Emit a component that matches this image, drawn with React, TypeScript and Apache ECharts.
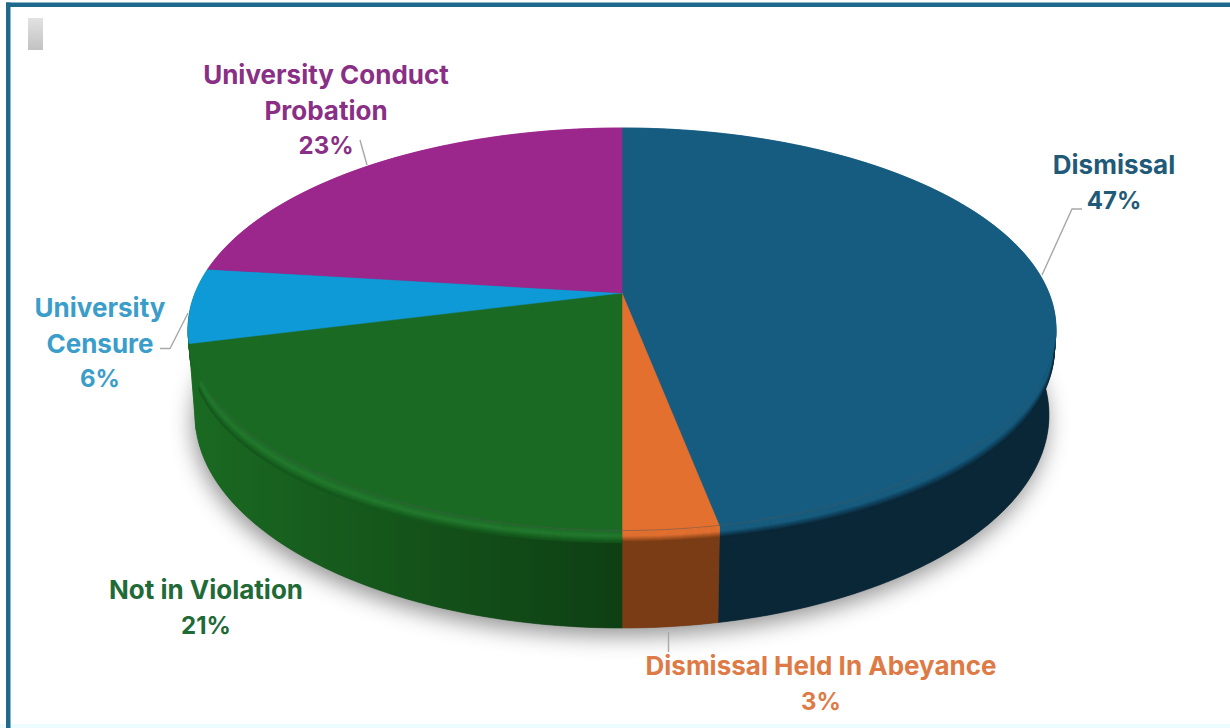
import React, { useEffect, useRef } from "react";
import * as echarts from "echarts";

const categories = ["Dismissal", "Dismissal Held In Abeyance", "Not in Violation", "University Censure", "University Conduct Probation"];
const labelLines = [["Dismissal"], ["Dismissal Held In Abeyance"], ["Not in Violation"], ["University", "Censure"], ["University Conduct", "Probation"]];
const shares = [47, 3, 21, 6, 23];
const topColors = ["#155c80", "#e4702f", "#1a6a24", "#0e9ad6", "#9c278c"];
const textColors = ["#1f5a78", "#de7a45", "#1f6a36", "#3a9dca", "#8a2f86"];

const W = 1230, H = 728;
const CX = 622, APEX_Y = 293, P = 0.179, A = 427, B = 194.6;
const TOP = { cy: 329.5, rx: 434, ry: 201.5 };
const BOT = { cy: 415, rx: 427, ry: 213 };
const LABEL_POS = [[1114, 147], [821, 648], [206, 572], [100, 290], [326, 57]];
const LINE_H = 35.5;
const TOTAL = shares.reduce((a, b) => a + b, 0);
// wall colours per slice: [top of the wall colour it fades from, wall colour]; the hidden censure wall continues the green one
const wallFrom = ["#155c80", "#e4702f", "#1a6a24", "#1a6a24", "#9c278c"];
const wallBase = ["#0a2738", "#7a3c15", "#14571c", "#1a631f", "#6e1a63"];

const startOf = (i: number) => shares.slice(0, i).reduce((a, b) => a + b, 0);

function rim(f: number): [number, number] {
  const t = (f / TOTAL) * Math.PI * 2;
  const u = Math.sin(t), v = Math.cos(t);
  const w = 1 + P * v;
  return [CX + (A * u) / w, APEX_Y - (B * v) / w];
}
function rimSamples(s: number, e: number) {
  const n = Math.max(4, Math.ceil((e - s) * 3));
  const pts: [number, number][] = [];
  for (let i = 0; i <= n; i++) pts.push(rim(s + ((e - s) * i) / n));
  return pts;
}
function phiOf(p: [number, number]) {
  return Math.atan2((p[1] - TOP.cy) / TOP.ry, (p[0] - CX) / TOP.rx);
}
function atDepth(p: [number, number], k: number): [number, number] {
  const phi = phiOf(p);
  const rx = TOP.rx + (BOT.rx - TOP.rx) * k;
  const ry = TOP.ry + (BOT.ry - TOP.ry) * k;
  const cy = TOP.cy + (BOT.cy - TOP.cy) * k;
  return [CX + rx * Math.cos(phi), cy + ry * Math.sin(phi)];
}
function bevelDepth(p: [number, number], t: number) {
  const c = Math.cos(phiOf(p));
  return (0.12 + 0.1 * c * c) * t;
}
function hexMix(a: string, b: string, k: number) {
  const pa = [1, 3, 5].map((i) => parseInt(a.slice(i, i + 2), 16));
  const pb = [1, 3, 5].map((i) => parseInt(b.slice(i, i + 2), 16));
  return "#" + pa.map((v, i) => Math.round(v + (pb[i] - v) * k).toString(16).padStart(2, "0")).join("");
}

const BEVEL_STEPS = 12;

function bevelColor(i: number, t: number) {
  const from = wallFrom[i], to = wallBase[i];
  const peak = i === 2 || i === 3 ? "#227a2d" : from;
  if (t < 0.5) return hexMix(from, peak, t / 0.5);
  return hexMix(peak, to, (t - 0.5) / 0.5);
}

function renderSide(_: any, api: any) {
  const i = api.value(0) as number;
  const share = api.value(1) as number;
  const s = startOf(i);
  const pts = rimSamples(s, s + share);
  const children: any[] = [];
  const wall = (fill: any) => ({
    type: "polygon",
    shape: { points: [...pts.map((p) => atDepth(p, 0.08)), ...pts.slice().reverse().map((p) => atDepth(p, 1))] },
    style: { fill, stroke: fill, lineWidth: 0.6 },
    silent: true,
  });
  const greenWall = new echarts.graphic.LinearGradient(188, 0, 622, 0, [
    { offset: 0, color: "#1a6a22" },
    { offset: 0.45, color: "#15561b" },
    { offset: 1, color: "#0e3f14" },
  ], true);
  children.push(wall(i === 2 || i === 3 ? greenWall : wallBase[i]));
  for (let b = 0; b < BEVEL_STEPS; b++) {
    const t0 = b / BEVEL_STEPS, t1 = (b + 1) / BEVEL_STEPS;
    const fill = bevelColor(i, t1);
    children.push({
      type: "polygon",
      shape: {
        points: [
          ...pts.map((p) => atDepth(p, bevelDepth(p, t0))),
          ...pts.slice().reverse().map((p) => atDepth(p, bevelDepth(p, t1))),
        ],
      },
      style: { fill, stroke: fill, lineWidth: 0.6 },
      silent: true,
    });
  }
  return { type: "group", children };
}

function renderTop(_: any, api: any) {
  const i = api.value(0) as number;
  const share = api.value(1) as number;
  const s = startOf(i);
  const pts = rimSamples(s, s + share);
  return {
    type: "polygon",
    shape: { points: [[CX, APEX_Y], ...pts] },
    style: { fill: topColors[i], stroke: topColors[i], lineWidth: 0.5 },
    silent: true,
  };
}

function renderLabel(_: any, api: any) {
  const i = api.value(0) as number;
  const share = api.value(1) as number;
  const lines = labelLines[i];
  const line = (text: string, n: number, size: number) => ({
    type: "text",
    x: LABEL_POS[i][0],
    y: LABEL_POS[i][1] + LINE_H * (n + 0.5),
    style: {
      text,
      fill: textColors[i],
      font: `700 ${size}px Inter, "Open Sans", sans-serif`,
      align: "center",
      verticalAlign: "middle",
    },
    silent: true,
  });
  return {
    type: "group",
    children: [...lines.map((t, n) => line(t, n, 26)), line(share + "%", lines.length, 24)],
  };
}

function renderShadow() {
  const pts: number[][] = [];
  for (let d = 0; d < 360; d += 2) {
    const a = (d * Math.PI) / 180;
    pts.push([CX + BOT.rx * Math.cos(a), BOT.cy + BOT.ry * Math.sin(a)]);
  }
  return {
    type: "polygon",
    shape: { points: pts },
    style: { fill: "#555", shadowBlur: 22, shadowColor: "rgba(0,0,0,0.42)", shadowOffsetY: 8, shadowOffsetX: -2 },
    silent: true,
  };
}

const rows = shares.map((v, i) => ({ name: categories[i], value: [i, v] }));

const leader = (points: number[][]) => ({
  type: "polyline",
  shape: { points },
  style: { stroke: "#a8a8a8", lineWidth: 1.4, fill: "none" },
  silent: true,
  z: 30,
});

export default function App() {
  const ref = useRef<HTMLDivElement>(null);
  useEffect(() => {
    document.body.style.margin = "0";
    document.body.style.background = "#fff";
    const chart = echarts.init(ref.current!, null, { renderer: "svg" });
    const base = { type: "custom", coordinateSystem: "none", data: rows, silent: true, animation: false, clip: false };
    chart.setOption({
      animation: false,
      backgroundColor: "#ffffff",
      graphic: [
        { type: "rect", shape: { x: 0, y: 724, width: W, height: 4 }, style: { fill: "#ecfbfe" }, z: 1 },
        { type: "rect", shape: { x: 6, y: 2.5, width: W - 6, height: 4.5 }, style: { fill: "#1d6a8c" }, z: 1 },
        { type: "rect", shape: { x: 6, y: 2.5, width: 4.5, height: H - 2.5 }, style: { fill: "#1d6a8c" }, z: 1 },
        {
          type: "rect",
          shape: { x: 28, y: 18, width: 15, height: 32 },
          style: {
            fill: new echarts.graphic.LinearGradient(0, 0, 0, 1, [
              { offset: 0, color: "#e2e2e2" },
              { offset: 1, color: "#c2c2c2" },
            ]),
          },
          z: 1,
        },
        leader([[360, 140], [367, 165]]),
        leader([[160, 348.5], [170, 348.5], [188, 313]]),
        leader([[1082, 209], [1072, 209], [1042, 275]]),
        leader([[668.5, 632], [668.5, 652]]),
      ],
      series: [
        { ...base, name: "shadow", data: [rows[0]], renderItem: renderShadow, z: 2 },
        { ...base, name: "side", renderItem: renderSide, z: 3 },
        { ...base, name: "top", renderItem: renderTop, z: 4 },
        { ...base, name: "labels", renderItem: renderLabel, z: 6 },
      ],
    });
    return () => chart.dispose();
  }, []);
  return <div ref={ref} style={{ width: W, height: H }} />;
}
